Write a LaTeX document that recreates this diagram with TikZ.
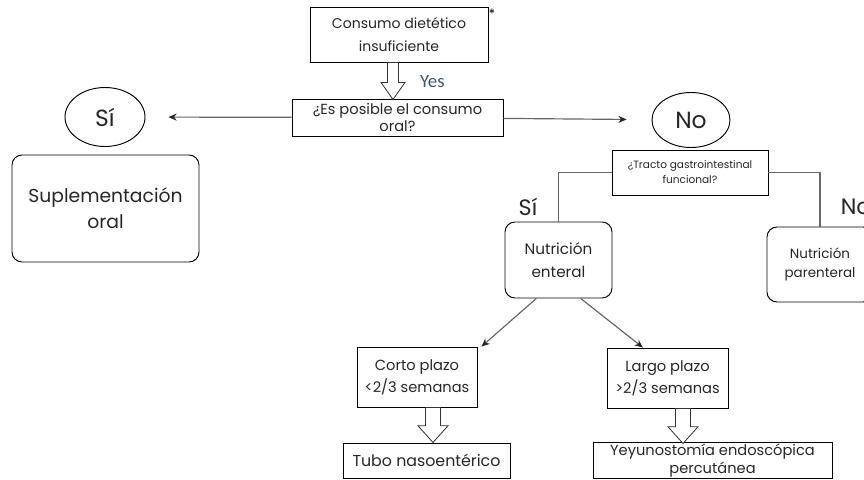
\documentclass[tikz,border=0pt]{standalone}
\usepackage{fontspec}
\setmainfont{Poppins}
\newfontfamily\yesfont{Carlito}
\usetikzlibrary{shapes,arrows,arrows.meta,calc}

% size and line distance
\newcommand{\fs}[2]{\fontsize{#1}{#2}\selectfont}

\begin{document}
\begin{tikzpicture}
        \tikzstyle{box} = [rectangle, draw=black, line width=0.8pt, align=center, inner sep=1pt, text=black!85]
        \tikzstyle{rbox} = [box, rounded corners=0.3cm]
        \tikzstyle{oval} = [ellipse, draw=black, line width=0.8pt, inner sep=0pt, text=black!85]
        \tikzstyle{arrow} = [line width=1pt, draw=black!60, -{Stealth[length=7pt,width=6pt,color=black!85]}]
        \tikzstyle{link} = [line width=1pt, draw=black!60]
        \tikzset{pics/hollow/.style n args={4}{code={
          \draw[fill=white, line width=0.7pt, draw=black!80] (-#1,0) -- (-#1,-#3) -- (-#2,-#3) -- (0,-#4) -- (#2,-#3) -- (#1,-#3) -- (#1,0) -- cycle;}}}

        \useasboundingbox (0,0) rectangle (25.92,-14.37);
        \clip (0,0) rectangle (25.92,-14.37);

        \node (consumo) [box, minimum width=5.34cm, minimum height=1.65cm, font=\fs{12}{19.5}] at (11.97,-1.035) {Consumo dietético\\insuficiente};
        \node (ast) [font=\fs{11}{12}] at (14.76,-0.42) {*};
        \node (oralq) [box, minimum width=6.33cm, minimum height=1.11cm, font=\fs{12.5}{15}] at (11.925,-3.525) {¿Es posible el consumo\\oral?};
        \node (si) [oval, minimum width=2.4cm, minimum height=1.77cm, font=\fs{20}{24}] at (3.15,-3.51) {Sí};
        \node (supl) [rbox, minimum width=5.61cm, minimum height=3.21cm, font=\fs{16}{22}] at (3.165,-6.255) {Suplementación\\oral};
        \node (no) [oval, minimum width=2.34cm, minimum height=1.65cm, font=\fs{20}{24}] at (20.73,-3.6) {No};
        \node (tracto) [box, minimum width=4.68cm, minimum height=1.35cm, font=\fs{9}{12.8}] at (20.7,-5.175) {¿Tracto gastrointestinal\\funcional?};
        \node (enteral) [rbox, minimum width=3.21cm, minimum height=2.28cm, font=\fs{13}{20}] at (16.755,-7.8) {Nutrición\\enteral};
        \node (parenteral) [rbox, minimum width=3.18cm, minimum height=2.25cm, font=\fs{11.5}{16}] at (24.6,-7.935) {Nutrición\\parenteral};
        \node (corto) [box, minimum width=3.6cm, minimum height=1.8cm, font=\fs{12.5}{19}] at (12.51,-11.31) {Corto plazo\\<2/3 semanas};
        \node (largo) [box, minimum width=3.63cm, minimum height=1.8cm, font=\fs{12.5}{19}] at (20.025,-11.34) {Largo plazo\\>2/3 semanas};
        \node (tubo) [box, minimum width=5.01cm, minimum height=1.05cm, font=\fs{13.5}{16}] at (12.795,-13.815) {Tubo nasoentérico};
        \node (yeyu) [box, minimum width=7.17cm, minimum height=1.05cm, font=\fs{12.5}{15.4}] at (21.375,-13.815) {Yeyunostomía endoscópica\\percutánea};

        \node (yes) [anchor=west, text={rgb,255:red,68;green,84;blue,106}, font=\yesfont\fs{16}{18}] at (12.48,-2.46) {Yes};
        \node (lsi) [text=black!85, font=\fs{19}{22}] at (15.84,-6.2) {Sí};
        \node (lno) [anchor=west, text=black!85, font=\fs{19}{22}] at (25.1,-6.2) {No};

        \draw [arrow, shorten >=0.69cm] (oralq) -- (si);
        \draw [arrow, shorten >=0.75cm] (oralq) -- (no);
        \draw [link] (tracto.west) -| (enteral.north);
        \draw [link] (tracto.east) -| (parenteral.north);
        \draw [arrow] (enteral.240) -- ($(corto.north east)+(0.12,0)$);
        \draw [arrow] (enteral.300) -- (largo.129);

        \pic at ($(consumo.south)+(-0.18,0)$) {hollow={0.165}{0.36}{0.6}{1.11}};
        \pic at ($(corto.south)+(0.48,0)$) {hollow={0.225}{0.45}{0.55}{1.05}};
        \pic at ($(largo.south)+(0.465,0)$) {hollow={0.225}{0.45}{0.55}{1.05}};
    \end{tikzpicture}
\end{document}
